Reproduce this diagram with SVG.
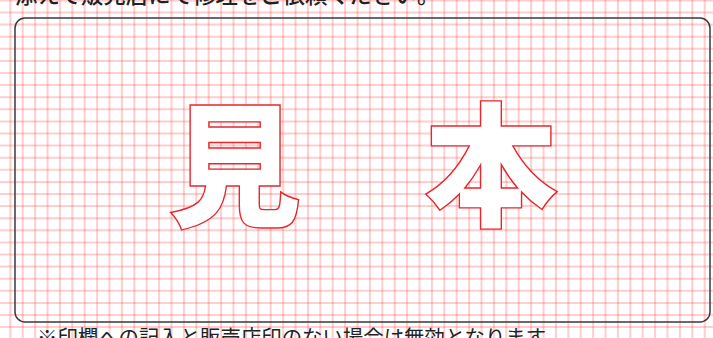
<svg xmlns="http://www.w3.org/2000/svg" width="713" height="338" viewBox="0 0 713 338">
<style>
.grid{fill:none;stroke:#ff4040;stroke-opacity:0.26;stroke-width:2}
.frame{fill:none;stroke:#3a3a3a;stroke-width:1.5}
.big{font-family:"Noto Sans CJK JP","Noto Sans CJK SC",sans-serif;font-weight:900;font-size:134px;fill:#fff;stroke:#e8282d;stroke-width:1.4;text-anchor:middle}
.note{font-family:"Noto Sans CJK JP","Noto Sans CJK SC",sans-serif;fill:#222}
</style>
<rect width="713" height="338" fill="#fff"/>
<g id="grid">
<path class="grid" d="M10.3 0V338M22.7 0V338M35.1 0V338M47.5 0V338M59.9 0V338M72.3 0V338M84.7 0V338M97.1 0V338M109.5 0V338M121.9 0V338M134.3 0V338M146.7 0V338M159.1 0V338M171.5 0V338M183.9 0V338M196.3 0V338M208.7 0V338M221.1 0V338M233.5 0V338M245.9 0V338M258.3 0V338M270.7 0V338M283.1 0V338M295.5 0V338M307.9 0V338M320.3 0V338M332.7 0V338M345.1 0V338M357.5 0V338M369.9 0V338M382.3 0V338M394.7 0V338M407.1 0V338M419.5 0V338M431.9 0V338M444.3 0V338M456.7 0V338M469.1 0V338M481.5 0V338M493.9 0V338M506.3 0V338M518.7 0V338M531.1 0V338M543.5 0V338M555.9 0V338M568.3 0V338M580.7 0V338M593.1 0V338M605.5 0V338M617.9 0V338M630.3 0V338M642.7 0V338M655.1 0V338M667.5 0V338M679.9 0V338M692.3 0V338M704.7 0V338"/>
<path class="grid" d="M0 0.4H713M0 12.5H713M0 24.6H713M0 36.7H713M0 48.8H713M0 60.9H713M0 73H713M0 85.1H713M0 97.2H713M0 109.3H713M0 121.4H713M0 133.5H713M0 145.6H713M0 157.7H713M0 169.8H713M0 181.9H713M0 194H713M0 206.1H713M0 218.2H713M0 230.3H713M0 242.4H713M0 254.5H713M0 266.6H713M0 278.7H713M0 290.8H713M0 302.9H713M0 315H713M0 327.1H713"/>
</g>
<g id="top-note">
<text class="note" x="15" y="3" font-size="22.4" font-weight="500">添えて販売店にて修理をご依頼ください。</text>
</g>
<g id="frame">
<rect class="frame" x="15" y="18" width="695" height="304" rx="10" ry="10"/>
</g>
<g id="sample">
<text class="big" x="234.5" y="216">見</text>
<text class="big" x="491" y="216">本</text>
</g>
<g id="bottom-note">
<text class="note" x="37" y="345" font-size="20.4">※印欄への記入と販売店印のない場合は無効となります。</text>
</g>
</svg>
